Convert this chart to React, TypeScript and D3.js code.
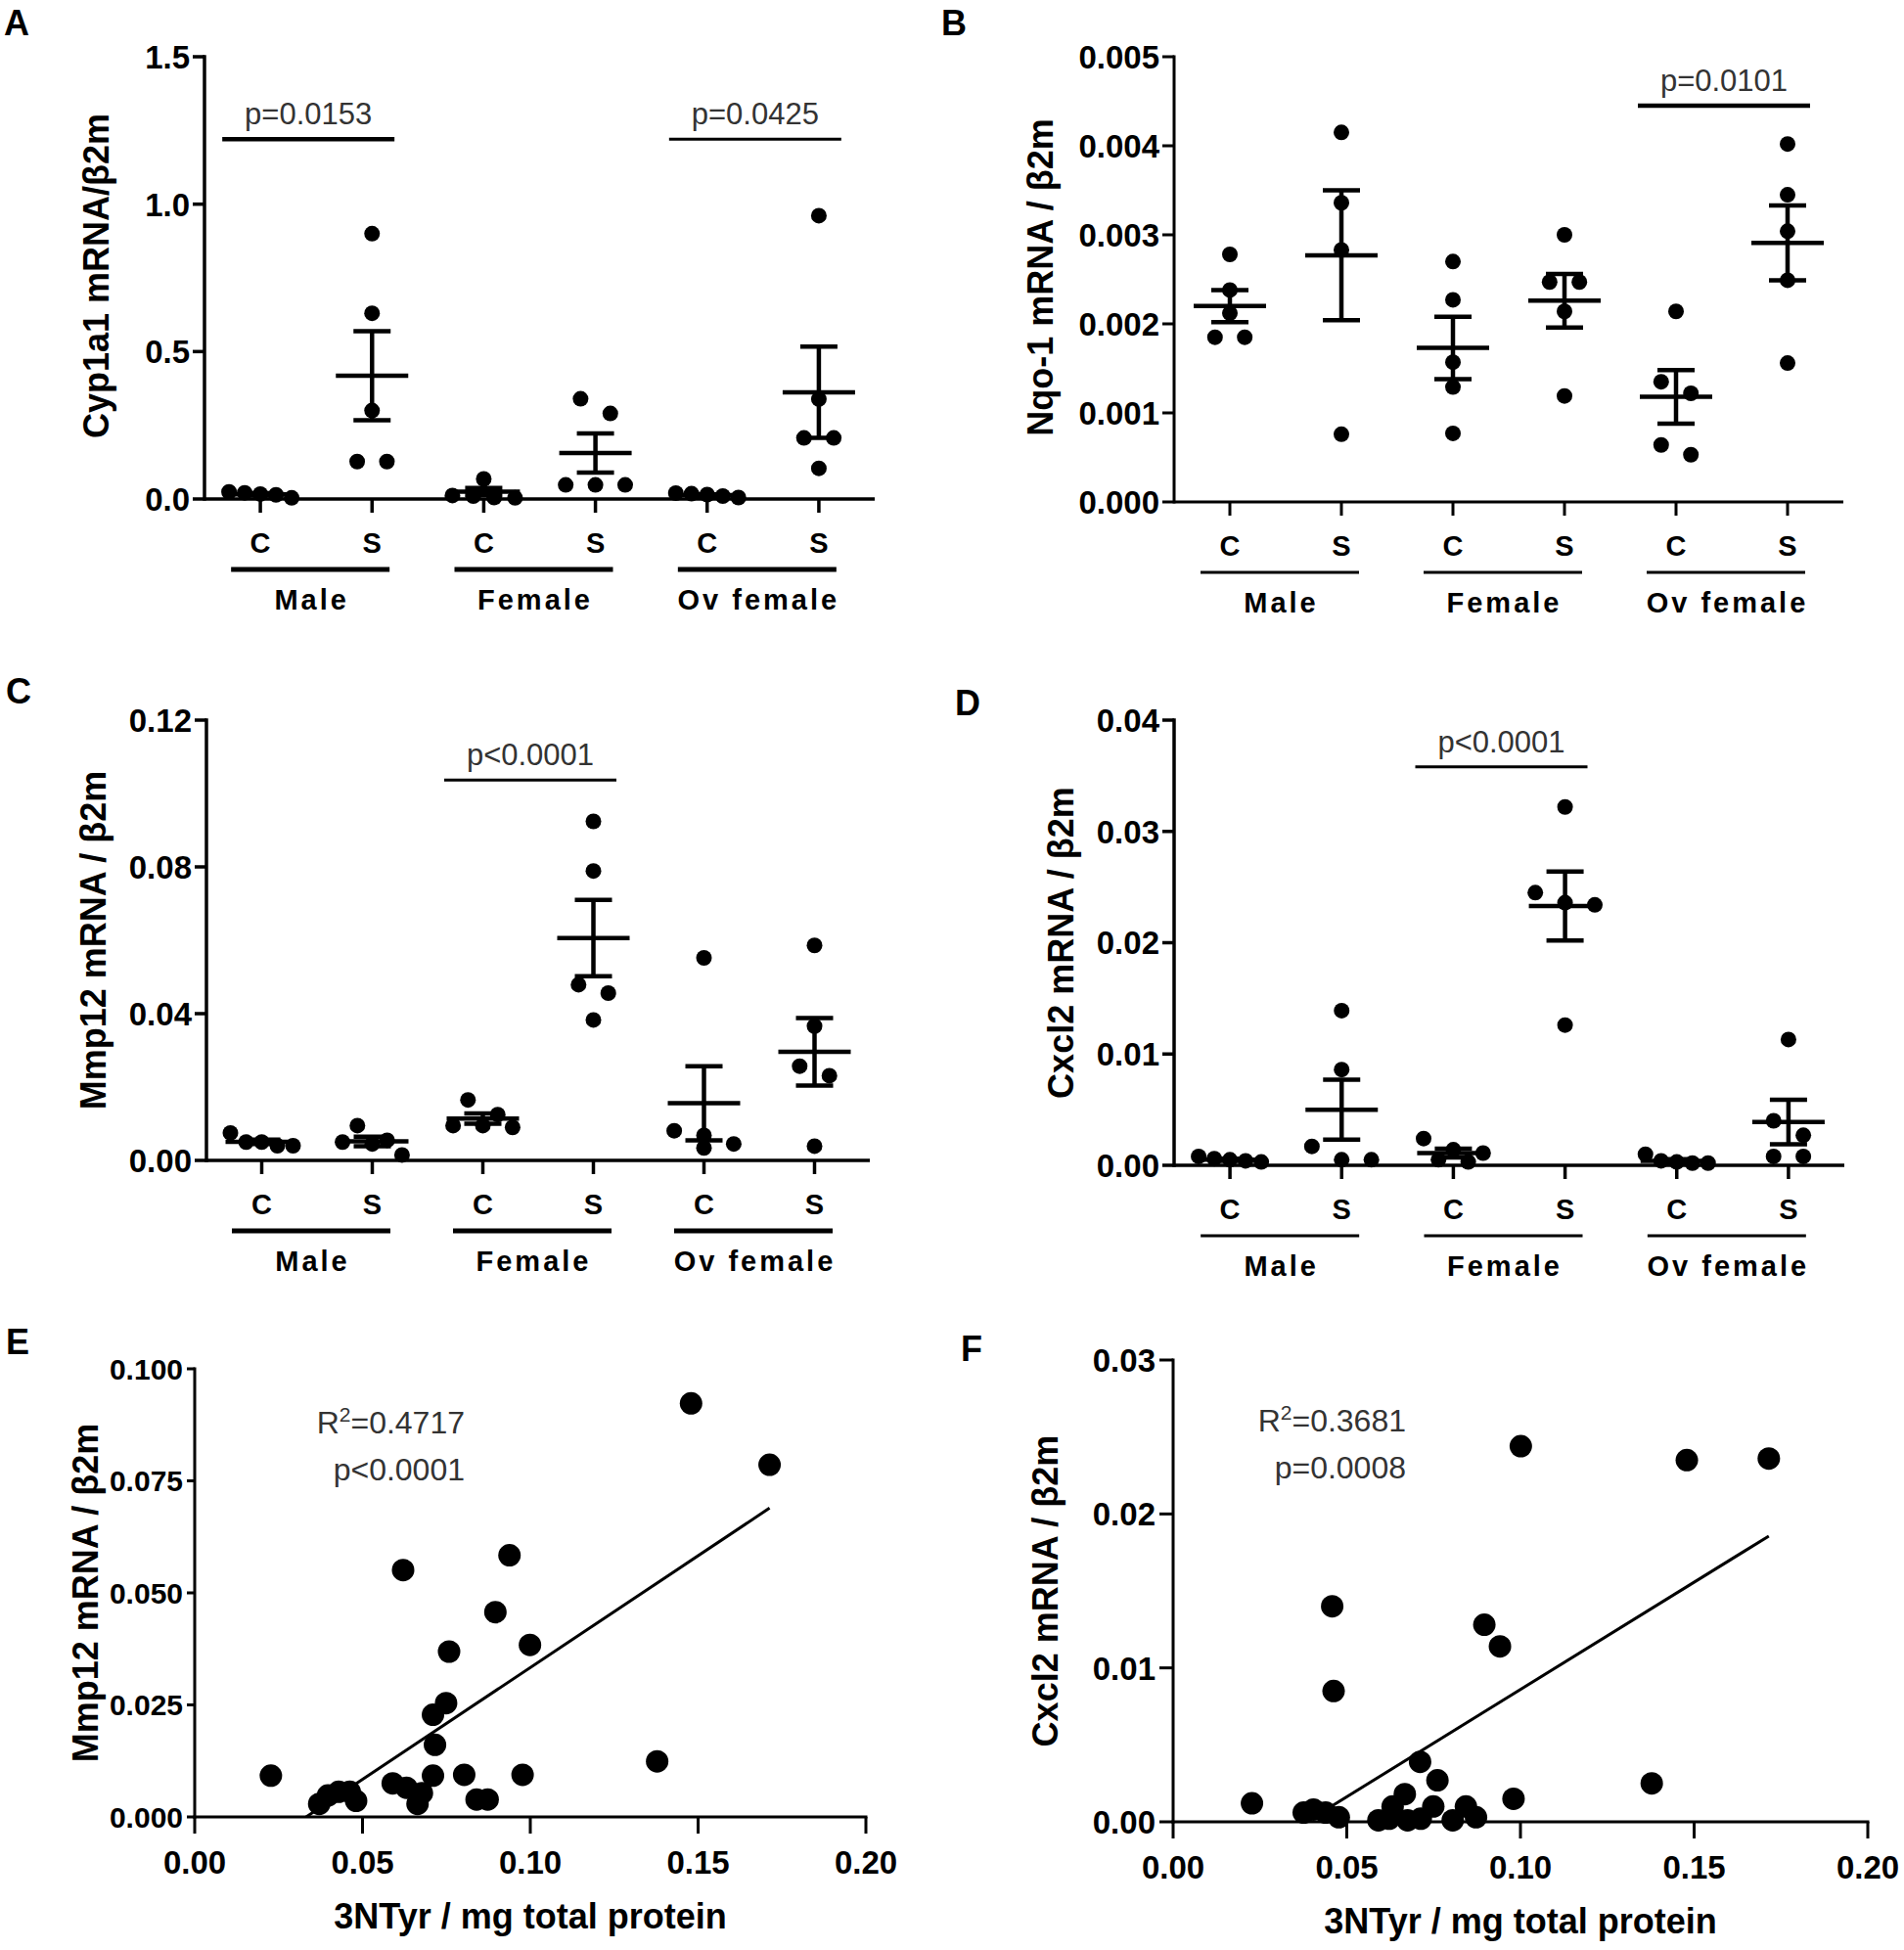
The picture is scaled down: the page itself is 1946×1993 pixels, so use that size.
import React from 'react';
import * as d3 from 'd3';

const FONT = '"Liberation Sans", Arial, Helvetica, sans-serif';

const categories = ['Male C', 'Male S', 'Female C', 'Female S', 'Ov C', 'Ov S'];
const treatmentLabels = ['C', 'S', 'C', 'S', 'C', 'S'];
const groupLabels = ['Male', 'Female', 'Ov female'];

// A: Cyp1a1
const cypValues = [
  [0.014, 0.024, 0.017, 0.021, 0.004],
  [0.9, 0.63, 0.3, 0.127, 0.127],
  [0.005, 0.01, 0.068, 0.012, 0.004],
  [0.34, 0.29, 0.048, 0.048, 0.048],
  [0.01, 0.02, 0.015, 0.018, 0.005],
  [0.961, 0.339, 0.207, 0.207, 0.104],
];
const cypMean = [0.016, 0.418, 0.025, 0.156, 0.013, 0.362];
const cypSem = [0.004, 0.151, 0.012, 0.066, 0.003, 0.155];
const cypSig = [
  { from: 0, to: 1, at: 1.22, label: 'p=0.0153' },
  { from: 4, to: 5, at: 1.22, label: 'p=0.0425' },
];

// B: Nqo-1
const nqoValues = [
  [0.00278, 0.00238, 0.00212, 0.00185, 0.00185],
  [0.00415, 0.00336, 0.00283, 0.00076],
  [0.0027, 0.00227, 0.00157, 0.00129, 0.00077],
  [0.003, 0.00247, 0.00247, 0.00214, 0.00119],
  [0.00214, 0.00135, 0.00122, 0.00064, 0.00053],
  [0.00402, 0.00345, 0.00304, 0.00249, 0.00156],
];
const nqoMean = [0.0022, 0.00277, 0.00173, 0.00226, 0.00118, 0.00291];
const nqoSem = [0.00018, 0.00073, 0.00035, 0.0003, 0.0003, 0.00042];
const nqoSig = [{ from: 4, to: 5, at: 0.00445, label: 'p=0.0101' }];

// C: Mmp12
const mmpValues = [
  [0.0075, 0.005, 0.004, 0.004, 0.005],
  [0.0095, 0.0055, 0.005, 0.0045, 0.0015],
  [0.0165, 0.0125, 0.0095, 0.009, 0.0095],
  [0.0924, 0.0789, 0.0479, 0.0456, 0.0383],
  [0.0552, 0.0081, 0.0068, 0.0045, 0.0034],
  [0.0586, 0.0366, 0.0257, 0.0231, 0.0039],
];
const mmpMean = [0.0051, 0.0052, 0.0114, 0.0606, 0.0156, 0.0296];
const mmpSem = [0.0006, 0.0013, 0.0014, 0.0104, 0.0101, 0.0092];
const mmpSig = [{ from: 2, to: 3, at: 0.1037, label: 'p<0.0001' }];

// D: Cxcl2
const cxcValues = [
  [0.0008, 0.0006, 0.0005, 0.0004, 0.0003],
  [0.0139, 0.0086, 0.0017, 0.0005, 0.0005],
  [0.0024, 0.0014, 0.0011, 0.0005, 0.0003],
  [0.0322, 0.0245, 0.0236, 0.0234, 0.0126],
  [0.001, 0.0004, 0.0003, 0.0002, 0.0002],
  [0.0113, 0.004, 0.0027, 0.0008, 0.0008],
];
const cxcMean = [0.0005, 0.005, 0.0011, 0.0233, 0.0004, 0.0039];
const cxcSem = [0.0001, 0.0027, 0.0004, 0.0031, 0.00015, 0.002];
const cxcSig = [{ from: 2, to: 3, at: 0.0358, label: 'p<0.0001' }];

// E: Mmp12 vs 3NTyr
const mmpTyrX = [
  0.1479, 0.1713, 0.0938, 0.0621, 0.0896, 0.0999, 0.0758, 0.0749, 0.071, 0.0716, 0.1378, 0.0227, 0.071,
  0.0803, 0.0977, 0.059, 0.0631, 0.0677, 0.0664, 0.084, 0.0873, 0.0371, 0.0397, 0.0429, 0.0462, 0.0481,
];
const mmpTyrY = [
  0.0923, 0.0786, 0.0584, 0.0551, 0.0457, 0.0384, 0.0369, 0.0254, 0.0228, 0.0161, 0.0124, 0.0092, 0.0092,
  0.0094, 0.0094, 0.0075, 0.0065, 0.0053, 0.0029, 0.0039, 0.0039, 0.0029, 0.0048, 0.0056, 0.0056, 0.0036,
];

// F: Cxcl2 vs 3NTyr
const cxcTyrX = [
  0.1001, 0.1479, 0.1715, 0.0458, 0.0896, 0.0941, 0.0462, 0.0711, 0.0761, 0.1378, 0.0667, 0.098, 0.0227,
  0.0632, 0.0749, 0.0843, 0.0591, 0.0622, 0.0675, 0.0713, 0.0805, 0.0872, 0.0376, 0.0404, 0.0439, 0.0477,
];
const cxcTyrY = [
  0.0244, 0.0235, 0.0236, 0.014, 0.0128, 0.0114, 0.0085, 0.0039, 0.0027, 0.0025, 0.0018, 0.0015, 0.0012,
  0.001, 0.001, 0.001, 0.0001, 0.0002, 0.0001, 0.0002, 0.0001, 0.0003, 0.0006, 0.0008, 0.0006, 0.0003,
];

// spread dots of similar value side by side, like a scatter dot plot
function swarm(vals, y, r) {
  const pts = vals.map((v, i) => ({ v, py: y(v), i })).sort((a, b) => a.py - b.py);
  const rows = [];
  pts.forEach((p) => {
    const row = rows[rows.length - 1];
    if (row && p.py - row[0].py < 2 * r) row.push(p);
    else rows.push([p]);
  });
  const out = [];
  rows.forEach((row) => {
    const n = row.length;
    const step = n > 1 ? Math.min(3.8 * r, (8 * r) / (n - 1)) : 0;
    row.forEach((p, k) => out.push({ v: p.v, dx: (k - (n - 1) / 2) * step }));
  });
  return out;
}

function linearFit(xs, ys) {
  const mx = d3.mean(xs);
  const my = d3.mean(ys);
  const sxy = d3.sum(xs, (x, i) => (x - mx) * (ys[i] - my));
  const sxx = d3.sum(xs, (x) => (x - mx) ** 2);
  const slope = sxy / sxx;
  return { slope, intercept: my - slope * mx };
}

function DotPanel({ values, means, sems, sigs, yDomain, yTicks, yFormat, yTitle, letter, L }) {
  const x = d3.scalePoint().domain(categories).range([L.x0, L.x1]).padding(0.5);
  const y = d3.scaleLinear().domain(yDomain).range([L.y0, L.y1]);
  const fmt = d3.format(yFormat);
  const r = 8;
  return (
    <g fontFamily={FONT}>
      <text x={L.lx} y={L.ly} fontSize={36} fontWeight="bold">{letter}</text>
      <text transform={`translate(${L.tx},${(L.y0 + L.y1) / 2 + L.tdy}) rotate(-90)`} textAnchor="middle" fontSize={36} fontWeight="bold">{yTitle}</text>
      {/* y axis */}
      <line x1={L.x0} x2={L.x0} y1={L.y0} y2={y(yDomain[1])} stroke="#000" strokeWidth={L.axisW} strokeLinecap="square" />
      {yTicks.map((t) => (
        <g key={t}>
          <line x1={L.x0 - 12} x2={L.x0} y1={y(t)} y2={y(t)} stroke="#000" strokeWidth={L.axisW} />
          <text x={L.x0 - 15} y={y(t)} dy="0.36em" textAnchor="end" fontSize={33} fontWeight="bold">{fmt(t)}</text>
        </g>
      ))}
      {/* x axis */}
      <line x1={L.x0} x2={L.x1} y1={L.y0} y2={L.y0} stroke="#000" strokeWidth={L.axisW} />
      {categories.map((c, i) => (
        <g key={c}>
          <line x1={x(c)} x2={x(c)} y1={L.y0} y2={L.y0 + 14} stroke="#000" strokeWidth={L.axisW} />
          <text x={x(c)} y={L.y0 + 55} textAnchor="middle" fontSize={29} fontWeight="bold">{treatmentLabels[i]}</text>
        </g>
      ))}
      {groupLabels.map((g, gi) => {
        const cx = (x(categories[gi * 2]) + x(categories[gi * 2 + 1])) / 2 - 6;
        return (
          <g key={g}>
            <line x1={cx - 81} x2={cx + 81} y1={L.y0 + 72} y2={L.y0 + 72} stroke="#000" strokeWidth={L.groupW} />
            <text x={cx + 1.5} y={L.y0 + 113} textAnchor="middle" fontSize={29} fontWeight="bold" letterSpacing="3">{g}</text>
          </g>
        );
      })}
      {/* dots */}
      {values.map((vals, ci) =>
        swarm(vals, y, r).map((p, k) => (
          <circle key={`${ci}-${k}`} cx={x(categories[ci]) + p.dx} cy={y(p.v)} r={r} fill="#000" />
        ))
      )}
      {/* mean +- SEM */}
      {means.map((m, ci) => {
        const cx = x(categories[ci]);
        return (
          <g key={ci} stroke="#000" strokeWidth={4.5}>
            <line x1={cx} x2={cx} y1={y(m + sems[ci])} y2={y(m - sems[ci])} />
            <line x1={cx - 37} x2={cx + 37} y1={y(m)} y2={y(m)} />
            <line x1={cx - 19} x2={cx + 19} y1={y(m + sems[ci])} y2={y(m + sems[ci])} />
            <line x1={cx - 19} x2={cx + 19} y1={y(m - sems[ci])} y2={y(m - sems[ci])} />
          </g>
        );
      })}
      {sigs.map((s, si) => {
        const cx = (x(categories[s.from]) + x(categories[s.to])) / 2 - 8;
        return (
          <g key={si}>
            <line x1={cx - 88} x2={cx + 88} y1={y(s.at)} y2={y(s.at)} stroke="#000" strokeWidth={L.sigW[si]} />
            <text x={cx} y={y(s.at) - 15} textAnchor="middle" fontSize={31} fill="#333">{s.label}</text>
          </g>
        );
      })}
    </g>
  );
}

function ScatterPanel({ xs, ys, yDomain, yTicks, yFormat, xTicks, yTitle, stats, letter, L, id }) {
  const x = d3.scaleLinear().domain([0, 0.2]).range([L.x0, L.x1]);
  const y = d3.scaleLinear().domain(yDomain).range([L.y0, L.y1]);
  const fy = d3.format(yFormat);
  const fx = d3.format('.2f');
  const { slope, intercept } = linearFit(xs, ys);
  const [xmin, xmax] = d3.extent(xs);
  const line = d3.line().x((d) => x(d[0])).y((d) => y(d[1]));
  const fitPath = line([
    [xmin, slope * xmin + intercept],
    [xmax, slope * xmax + intercept],
  ]);
  return (
    <g fontFamily={FONT}>
      <defs>
        <clipPath id={id}>
          <rect x={L.x0} y={L.y1 - 20} width={L.x1 - L.x0} height={L.y0 - L.y1 + 20} />
        </clipPath>
      </defs>
      <text x={L.lx} y={L.ly} fontSize={36} fontWeight="bold">{letter}</text>
      <text transform={`translate(${L.tx},${(L.y0 + L.y1) / 2 + L.tdy}) rotate(-90)`} textAnchor="middle" fontSize={36} fontWeight="bold">{yTitle}</text>
      <text x={(L.x0 + L.x1) / 2} y={L.y0 + 114} textAnchor="middle" fontSize={36} fontWeight="bold">3NTyr / mg total protein</text>
      <line x1={L.x0} x2={L.x0} y1={L.y0} y2={L.y1} stroke="#000" strokeWidth={3} strokeLinecap="square" />
      {yTicks.map((t) => (
        <g key={t}>
          <line x1={L.x0 - L.tick} x2={L.x0} y1={y(t)} y2={y(t)} stroke="#000" strokeWidth={3} />
          <text x={L.x0 - L.tick - 4} y={y(t)} dy="0.36em" textAnchor="end" fontSize={L.yFont} fontWeight="bold">{fy(t)}</text>
        </g>
      ))}
      <line x1={L.x0} x2={L.x1} y1={L.y0} y2={L.y0} stroke="#000" strokeWidth={3} strokeLinecap="square" />
      {xTicks.map((t) => (
        <g key={t}>
          <line x1={x(t)} x2={x(t)} y1={L.y0} y2={L.y0 + 17} stroke="#000" strokeWidth={3} />
          <text x={x(t)} y={L.y0 + 58} textAnchor="middle" fontSize={33} fontWeight="bold">{fx(t)}</text>
        </g>
      ))}
      {xs.map((v, i) => (
        <circle key={i} cx={x(v)} cy={y(ys[i])} r={11.5} fill="#000" />
      ))}
      <path d={fitPath} stroke="#000" strokeWidth={3} fill="none" clipPath={`url(#${id})`} />
      <text x={L.sx} y={L.sy} textAnchor="end" fontSize={32} fill="#333">
        R<tspan dy={-12} fontSize={21}>2</tspan>
        <tspan dy={12}>={stats[0]}</tspan>
      </text>
      <text x={L.sx} y={L.sy + 48} textAnchor="end" fontSize={32} fill="#333">{stats[1]}</text>
    </g>
  );
}

const layoutA = { x0: 209, x1: 894, y0: 510, y1: 58, lx: 4, ly: 36, tx: 111, tdy: -2, axisW: 3.5, groupW: 5, sigW: [4.5, 3] };
const layoutB = { x0: 1200, x1: 1884, y0: 513, y1: 58, lx: 962, ly: 36, tx: 1076, tdy: -2, axisW: 3, groupW: 3, sigW: [4.5] };
const layoutC = { x0: 211, x1: 889, y0: 1186, y1: 736, lx: 6, ly: 719, tx: 108, tdy: 0, axisW: 3.5, groupW: 5, sigW: [3] };
const layoutD = { x0: 1200, x1: 1885, y0: 1191, y1: 736, lx: 976, ly: 731, tx: 1097, tdy: 0, axisW: 3.5, groupW: 3, sigW: [3] };
const layoutE = { x0: 199, x1: 885, y0: 1857, y1: 1399, lx: 6, ly: 1384, tx: 100, tdy: 0, tick: 8, yFont: 30, sx: 475, sy: 1465 };
const layoutF = { x0: 1199, x1: 1909, y0: 1862, y1: 1390, lx: 982, ly: 1391, tx: 1081, tdy: 0, tick: 14, yFont: 33, sx: 1437, sy: 1463 };

export default function App() {
  return (
    <svg width={1946} height={1993} style={{ position: 'absolute', left: 0, top: 0, background: '#fff' }}>
      <rect width={1946} height={1993} fill="#fff" />
      <DotPanel values={cypValues} means={cypMean} sems={cypSem} sigs={cypSig} yDomain={[0, 1.5]} yTicks={[0, 0.5, 1, 1.5]} yFormat=".1f" yTitle="Cyp1a1 mRNA/β2m" letter="A" L={layoutA} />
      <DotPanel values={nqoValues} means={nqoMean} sems={nqoSem} sigs={nqoSig} yDomain={[0, 0.005]} yTicks={[0, 0.001, 0.002, 0.003, 0.004, 0.005]} yFormat=".3f" yTitle="Nqo-1 mRNA / β2m" letter="B" L={layoutB} />
      <DotPanel values={mmpValues} means={mmpMean} sems={mmpSem} sigs={mmpSig} yDomain={[0, 0.12]} yTicks={[0, 0.04, 0.08, 0.12]} yFormat=".2f" yTitle="Mmp12 mRNA / β2m" letter="C" L={layoutC} />
      <DotPanel values={cxcValues} means={cxcMean} sems={cxcSem} sigs={cxcSig} yDomain={[0, 0.04]} yTicks={[0, 0.01, 0.02, 0.03, 0.04]} yFormat=".2f" yTitle="Cxcl2 mRNA / β2m" letter="D" L={layoutD} />
      <ScatterPanel id="clipE" xs={mmpTyrX} ys={mmpTyrY} yDomain={[0, 0.1]} yTicks={[0, 0.025, 0.05, 0.075, 0.1]} yFormat=".3f" xTicks={[0, 0.05, 0.1, 0.15, 0.2]} yTitle="Mmp12 mRNA / β2m" stats={['0.4717', 'p<0.0001']} letter="E" L={layoutE} />
      <ScatterPanel id="clipF" xs={cxcTyrX} ys={cxcTyrY} yDomain={[0, 0.03]} yTicks={[0, 0.01, 0.02, 0.03]} yFormat=".2f" xTicks={[0, 0.05, 0.1, 0.15, 0.2]} yTitle="Cxcl2 mRNA / β2m" stats={['0.3681', 'p=0.0008']} letter="F" L={layoutF} />
    </svg>
  );
}
